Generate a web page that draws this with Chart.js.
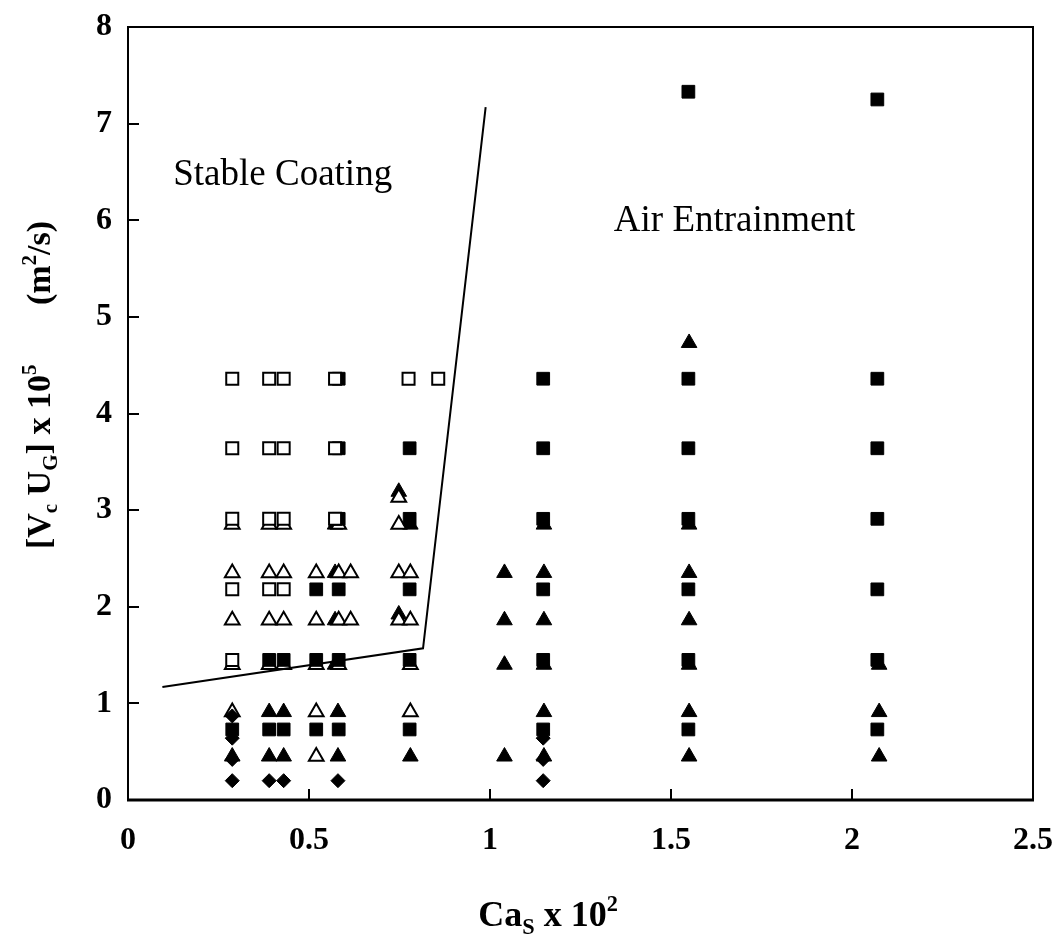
<!DOCTYPE html>
<html>
<head>
<meta charset="utf-8">
<script src="https://cdn.jsdelivr.net/npm/chart.js@4.4.1/dist/chart.umd.min.js"></script>
<style>
html,body{margin:0;padding:0;background:#fff;}
#wrap{width:1061px;height:949px;}
</style>
</head>
<body>
<div id="wrap"><canvas id="c" width="1061" height="949"></canvas></div>
<script>
// ---- data ----
const xTicks = [0, 0.5, 1, 1.5, 2, 2.5];
const yTicks = [0, 1, 2, 3, 4, 5, 6, 7, 8];

// Stable coating / air entrainment boundary
const boundaryX = [0.095, 0.815, 0.988];
const boundaryY = [1.17, 1.57, 7.17];

// open squares
const openSqX = [0.288,0.288,0.288,0.288,0.288, 0.39,0.39,0.39,0.39, 0.43,0.43,0.43,0.43, 0.572,0.572,0.572, 0.775, 0.857];
const openSqY = [4.36,3.64,2.91,2.18,1.45, 4.36,3.64,2.91,2.18, 4.36,3.64,2.91,2.18, 4.36,3.64,2.91, 4.36, 4.36];

// filled squares
const fillSqX = [0.288, 0.39,0.39, 0.43,0.43, 0.52,0.52,0.52, 0.582,0.582,0.582,0.582,0.582,0.582,
  0.778,0.778,0.778,0.778,0.778, 1.147,1.147,1.147,1.147,1.147,1.147,
  1.548,1.548,1.548,1.548,1.548,1.548,1.548, 2.07,2.07,2.07,2.07,2.07,2.07,2.07];
const fillSqY = [0.73, 1.45,0.73, 1.45,0.73, 2.18,1.45,0.73, 4.36,3.64,2.91,2.18,1.45,0.73,
  3.64,2.91,2.18,1.45,0.73, 4.36,3.64,2.91,2.18,1.45,0.73,
  7.33,4.36,3.64,2.91,2.18,1.45,0.73, 7.25,4.36,3.64,2.91,2.18,1.45,0.73];

// open triangles
const openTriX = [0.288,0.288,0.288,0.288,0.288, 0.39,0.39,0.39,0.39, 0.43,0.43,0.43,0.43,
  0.52,0.52,0.52,0.52,0.52, 0.582,0.582,0.582,0.582, 0.615,0.615, 0.748,0.748,0.748,0.748, 0.78,0.78,0.78,0.78];
const openTriY = [2.85,2.35,1.86,1.40,0.91, 2.85,2.35,1.86,1.40, 2.85,2.35,1.86,1.40,
  2.35,1.86,1.40,0.91,0.45, 2.85,2.35,1.86,1.40, 2.35,1.86, 3.13,2.85,2.35,1.86, 2.35,1.86,1.40,0.91];

// filled triangles
const fillTriX = [0.288, 0.39,0.39, 0.43,0.43, 0.58,0.58, 0.572,0.572,0.572,0.572, 0.748,0.748, 0.78,0.78,
  1.04,1.04,1.04,1.04, 1.149,1.149,1.149,1.149,1.149,1.149,
  1.55,1.55,1.55,1.55,1.55,1.55,1.55, 2.075,2.075,2.075];
const fillTriY = [0.45, 0.91,0.45, 0.91,0.45, 0.91,0.45, 2.85,2.35,1.86,1.40, 3.19,1.92, 2.85,0.45,
  2.35,1.86,1.40,0.45, 2.85,2.35,1.86,1.40,0.91,0.45,
  4.73,2.85,2.35,1.86,1.40,0.91,0.45, 1.40,0.91,0.45];

// filled diamonds
const diaX = [0.288,0.288,0.288,0.288, 0.39, 0.43, 0.58, 1.147,1.147,1.147];
const diaY = [0.87,0.64,0.42,0.20, 0.20, 0.20, 0.20, 0.64,0.42,0.20];

const regionLabels = [
  {text: 'Stable Coating', x: 0.125, y: 6.36},
  {text: 'Air Entrainment', x: 1.342, y: 5.89}
];

const toPts = (xs, ys) => xs.map((x, i) => ({x: x, y: ys[i]}));

const SERIF = "'Liberation Serif', 'Times New Roman', serif";

function drawRuns(ctx, runs, x, y, size) {
  let cx = x;
  for (const r of runs) {
    const s = r.k ? size * 0.62 : size;
    ctx.font = 'bold ' + s + 'px ' + SERIF;
    let dy = 0;
    if (r.k === 'sub') dy = size * 0.22;
    if (r.k === 'sup') dy = -size * 0.42;
    ctx.fillText(r.t, cx, y + dy);
    cx += ctx.measureText(r.t).width;
  }
  return cx - x;
}
function measureRuns(ctx, runs, size) {
  let w = 0;
  for (const r of runs) {
    const s = r.k ? size * 0.62 : size;
    ctx.font = 'bold ' + s + 'px ' + SERIF;
    w += ctx.measureText(r.t).width;
  }
  return w;
}

const framePlugin = {
  id: 'frame',
  afterDraw(chart) {
    const {ctx, chartArea: a, scales} = chart;
    ctx.save();
    ctx.strokeStyle = '#000';
    ctx.lineWidth = 2;
    ctx.strokeRect(a.left, a.top, a.right - a.left, a.bottom - a.top);
    ctx.lineWidth = 3;
    ctx.beginPath();
    ctx.moveTo(a.left - 1, a.bottom); ctx.lineTo(a.right + 1, a.bottom);
    ctx.stroke();
    ctx.lineWidth = 2;
    ctx.beginPath();
    for (const v of xTicks) {
      const px = Math.round(scales.x.getPixelForValue(v));
      if (v === xTicks[0] || v === xTicks[xTicks.length - 1]) continue;
      ctx.moveTo(px, a.bottom); ctx.lineTo(px, a.bottom - 11);
    }
    for (const v of yTicks) {
      const py = Math.round(scales.y.getPixelForValue(v));
      if (v === yTicks[0] || v === yTicks[yTicks.length - 1]) continue;
      ctx.moveTo(a.left, py); ctx.lineTo(a.left + 11, py);
    }
    ctx.stroke();

    ctx.fillStyle = '#000';
    ctx.font = '37px ' + SERIF;
    ctx.textBaseline = 'alphabetic';
    for (const l of regionLabels) {
      ctx.fillText(l.text, scales.x.getPixelForValue(l.x), scales.y.getPixelForValue(l.y));
    }

    const xr = [{t: 'Ca'}, {t: 'S', k: 'sub'}, {t: ' x 10'}, {t: '2', k: 'sup'}];
    const xw = measureRuns(ctx, xr, 36);
    drawRuns(ctx, xr, 548 - xw / 2, 926, 36);

    const yr = [{t: '[V'}, {t: 'c', k: 'sub'}, {t: ' U'}, {t: 'G', k: 'sub'}, {t: '] x 10'}, {t: '5', k: 'sup'},
      {t: '       (m'}, {t: '2', k: 'sup'}, {t: '/s)'}];
    const yw = measureRuns(ctx, yr, 34);
    ctx.translate(50, 385);
    ctx.rotate(-Math.PI / 2);
    drawRuns(ctx, yr, -yw / 2, 0, 34);
    ctx.restore();
  }
};

const tickFont = {family: SERIF, size: 32, weight: 'bold'};

new Chart(document.getElementById('c'), {
  type: 'scatter',
  data: {
    datasets: [
      {type: 'line', data: toPts(boundaryX, boundaryY), borderColor: '#000', borderWidth: 2,
        pointRadius: 0, fill: false, tension: 0},
      {data: toPts(diaX, diaY), pointStyle: 'rectRot', pointRadius: 7,
        backgroundColor: '#000', borderColor: '#000', borderWidth: 1},
      {data: toPts(openSqX, openSqY), pointStyle: 'rect', pointRadius: 8.5,
        backgroundColor: '#fff', borderColor: '#000', borderWidth: 2},
      {data: toPts(fillSqX, fillSqY), pointStyle: 'rect', pointRadius: 9,
        backgroundColor: '#000', borderColor: '#000', borderWidth: 1},
      {data: toPts(openTriX, openTriY), pointStyle: 'triangle', pointRadius: 8.5,
        backgroundColor: '#fff', borderColor: '#000', borderWidth: 2},
      {data: toPts(fillTriX, fillTriY), pointStyle: 'triangle', pointRadius: 9,
        backgroundColor: '#000', borderColor: '#000', borderWidth: 1}
    ]
  },
  options: {
    responsive: false,
    animation: false,
    events: [],
    layout: {autoPadding: false, padding: {top: 27, right: 28, left: 0, bottom: 0}},
    plugins: {legend: {display: false}, tooltip: {enabled: false}, title: {display: false}},
    scales: {
      x: {
        type: 'linear', min: 0, max: 2.5,
        afterFit(s) { s.height = 149; s.paddingLeft = 0; s.paddingRight = 0; s.paddingTop = 0; s.paddingBottom = 0; },
        afterBuildTicks(s) { s.ticks = xTicks.map(v => ({value: v})); },
        grid: {display: false, drawTicks: false},
        border: {display: false},
        ticks: {color: '#000', font: tickFont, padding: 22, maxRotation: 0,
          callback: v => String(v)}
      },
      y: {
        type: 'linear', min: 0, max: 8,
        afterFit(s) { s.width = 128; s.paddingLeft = 0; s.paddingRight = 0; s.paddingTop = 0; s.paddingBottom = 0; },
        afterBuildTicks(s) { s.ticks = yTicks.map(v => ({value: v})); },
        grid: {display: false, drawTicks: false},
        border: {display: false},
        ticks: {color: '#000', font: tickFont, padding: 16, callback: v => String(v)}
      }
    }
  },
  plugins: [framePlugin]
});
</script>
</body>
</html>
